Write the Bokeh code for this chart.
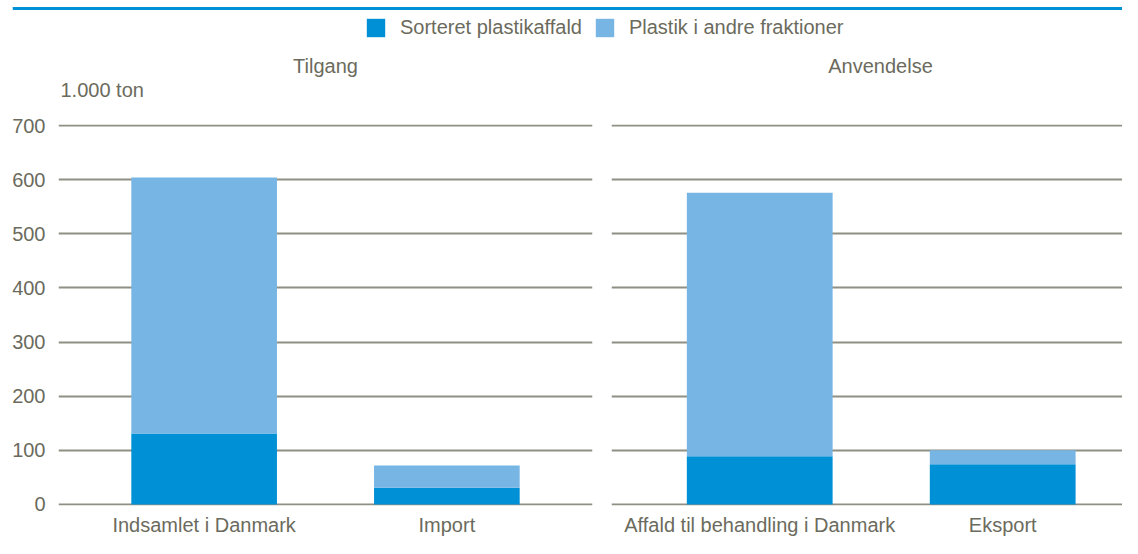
from bokeh.plotting import figure
from bokeh.models import ColumnDataSource, Range1d, Label, Span, Legend, LegendItem
from bokeh.layouts import column, row
from bokeh.embed import file_html
from bokeh.resources import INLINE

# ---- data ----
supply_cats = ["Indsamlet i Danmark", "Import"]
supply_sorted = [131, 31]
supply_other = [473, 41]

use_cats = ["Affald til behandling i Danmark", "Eksport"]
use_sorted = [89, 74]
use_other = [487, 26]

series_names = ["Sorteret plastikaffald", "Plastik i andre fraktioner"]
panel_titles = ["Tilgang", "Anvendelse"]
y_ticks = [0, 100, 200, 300, 400, 500, 600, 700]
unit_label = "1.000 ton"

# ---- style ----
FONT = "Liberation Sans"
TEXT = "#6b6b5d"
GRID = "#8f8f83"
DARK = "#0090d6"
LIGHT = "#77b5e4"
COLORS = [DARK, LIGHT]
FS = "20px"
HEAD_H = 110
PANEL_H = 538 - HEAD_H


def make_panel(cats, sorted_vals, other_vals, width, x_start, x_end,
               border_left, border_right, show_y):
    src = ColumnDataSource(dict(
        x=list(range(len(cats))),
        s0=sorted_vals,
        s1=other_vals,
    ))
    p = figure(width=width, height=PANEL_H, output_backend="svg", toolbar_location=None,
               x_range=Range1d(x_start, x_end), y_range=Range1d(-2, 702),
               min_border_left=border_left, min_border_right=border_right,
               min_border_top=14, min_border_bottom=33)
    p.outline_line_color = None
    p.background_fill_color = "white"
    p.border_fill_color = "white"
    p.vbar_stack(["s0", "s1"], x="x", width=0.6, source=src,
                 color=COLORS, line_color=None)

    p.xgrid.visible = False
    p.ygrid.grid_line_color = GRID
    p.ygrid.grid_line_width = 2
    p.yaxis.ticker = y_ticks
    p.xaxis.ticker = list(range(len(cats)))
    p.xaxis.major_label_overrides = {i: c for i, c in enumerate(cats)}

    for ax in (p.xaxis[0], p.yaxis[0]):
        ax.axis_line_color = None
        ax.major_tick_line_color = None
        ax.minor_tick_line_color = None
        ax.major_tick_in = 0
        ax.major_tick_out = 0
        ax.minor_tick_in = 0
        ax.minor_tick_out = 0
        ax.major_label_text_font = FONT
        ax.major_label_text_font_size = FS
        ax.major_label_text_color = TEXT
    p.xaxis.major_label_standoff = 8
    p.yaxis.major_label_standoff = 13
    if not show_y:
        p.yaxis.visible = False
    return p


p1 = make_panel(supply_cats, supply_sorted, supply_other,
                600, -0.6, 1.6, 58, 8, True)
p2 = make_panel(use_cats, use_sorted, use_other,
                522, -0.61, 1.493, 11, 0, False)

# ---- header: rule, legend, panel titles, unit ----
h = figure(width=1122, height=HEAD_H, output_backend="svg", toolbar_location=None,
           x_range=Range1d(12, 1122), y_range=Range1d(HEAD_H, 0),
           min_border=0, min_border_left=12)
h.outline_line_color = None
h.axis.visible = False
h.grid.visible = False
h.background_fill_color = "white"
h.border_fill_color = "white"
h.add_layout(Span(location=8, dimension="width", line_color=DARK, line_width=3))

nan = float("nan")
proxy = ColumnDataSource(dict(x=[nan], top=[nan]))
r0 = h.vbar(x="x", top="top", width=1, source=proxy, color=DARK, line_color=None)
r1 = h.vbar(x="x", top="top", width=1, source=proxy, color=LIGHT, line_color=None)
leg = Legend(items=[LegendItem(label=series_names[0], renderers=[r0]),
                    LegendItem(label=series_names[1], renderers=[r1])],
             orientation="horizontal", location=(352, HEAD_H - 39),
             glyph_width=23, glyph_height=23, label_height=23,
             label_standoff=13, spacing=11, padding=0, margin=0,
             border_line_color=None, background_fill_alpha=0,
             label_text_font=FONT, label_text_font_size=FS,
             label_text_color=TEXT)
h.add_layout(leg, "center")

title_x = [325, 880]
for tx, t in zip(title_x, panel_titles):
    h.add_layout(Label(x=tx, y=65, text=t, text_align="center",
                       text_baseline="middle", text_font=FONT,
                       text_font_size=FS, text_color=TEXT))
h.add_layout(Label(x=60, y=89, text=unit_label, text_align="left",
                   text_baseline="middle", text_font=FONT,
                   text_font_size=FS, text_color=TEXT))

layout = column(h, row(p1, p2))
open("out.html", "w").write(file_html(layout, INLINE))
